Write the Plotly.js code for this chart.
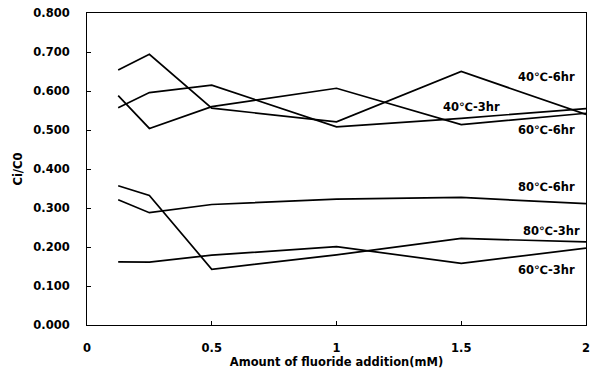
<!DOCTYPE html>
<html>
<head>
<meta charset="utf-8">
<script src="https://cdn.plot.ly/plotly-3.0.1.min.js"></script>
<style>html,body{margin:0;padding:0;background:#fff;}#chart{width:596px;height:376px;}</style>
</head>
<body>
<div id="chart"></div>
<script>
const fluoride = [0.125, 0.25, 0.5, 1, 1.5, 2];
const c40h6 = [0.654, 0.694, 0.556, 0.521, 0.650, 0.540];
const c40h3 = [0.557, 0.596, 0.615, 0.508, 0.530, 0.555];
const c60h6 = [0.588, 0.504, 0.560, 0.607, 0.514, 0.543];
const c80h6 = [0.321, 0.288, 0.309, 0.323, 0.327, 0.311];
const c80h3 = [0.357, 0.332, 0.143, 0.180, 0.222, 0.213];
const c60h3 = [0.162, 0.161, 0.179, 0.201, 0.158, 0.197];
const seriesNames = ["40℃-6hr", "40℃-3hr", "60℃-6hr", "80℃-6hr", "80℃-3hr", "60℃-3hr"];
const seriesData = [c40h6, c40h3, c60h6, c80h6, c80h3, c60h3];
const labelX = [1.84, 1.54, 1.84, 1.84, 1.86, 1.84];
const labelY = [0.636, 0.559, 0.500, 0.355, 0.242, 0.141];
const xTicks = [0, 0.5, 1, 1.5, 2];
const xTickText = ["0", "0.5", "1", "1.5", "2"];
const yTicks = [0, 0.1, 0.2, 0.3, 0.4, 0.5, 0.6, 0.7, 0.8];

const font = {family: "DejaVu Sans", size: 11.5, color: "#000"};
const traces = seriesData.map((d, i) => ({
  x: fluoride, y: d, name: seriesNames[i], type: "scatter", mode: "lines",
  line: {color: "#000", width: 1.7}
}));
const annotations = seriesNames.map((n, i) => ({
  x: labelX[i], y: labelY[i], xref: "x", yref: "y", text: "<b>" + n + "</b>",
  showarrow: false, font: font, xanchor: "center", yanchor: "middle"
}));
const layout = {
  width: 596, height: 376,
  margin: {l: 87, r: 10, t: 13, b: 51},
  paper_bgcolor: "#fff", plot_bgcolor: "#fff",
  showlegend: false,
  font: font,
  xaxis: {
    range: [0, 2], tickvals: xTicks, ticktext: xTickText.map(t => "<b>" + t + "</b>"),
    showgrid: false, zeroline: false, showline: true, mirror: true, linecolor: "#000", linewidth: 1,
    ticks: "inside", ticklen: 4, tickcolor: "#000", ticklabelstandoff: 12,
    title: {text: "<b>Amount of fluoride addition(mM)</b>", font: font, standoff: 4}
  },
  yaxis: {
    range: [0, 0.8], tickvals: yTicks, ticktext: yTicks.map(v => "<b>" + v.toFixed(3) + "</b>"),
    showgrid: false, zeroline: false, showline: true, mirror: true, linecolor: "#000", linewidth: 1,
    ticks: "inside", ticklen: 4, tickcolor: "#000", ticklabelstandoff: 14,
    title: {text: "<b>Ci/C0</b>", font: font, standoff: 8}
  },
  annotations: annotations
};
Plotly.newPlot("chart", traces, layout, {staticPlot: true, displayModeBar: false});
</script>
</body>
</html>
